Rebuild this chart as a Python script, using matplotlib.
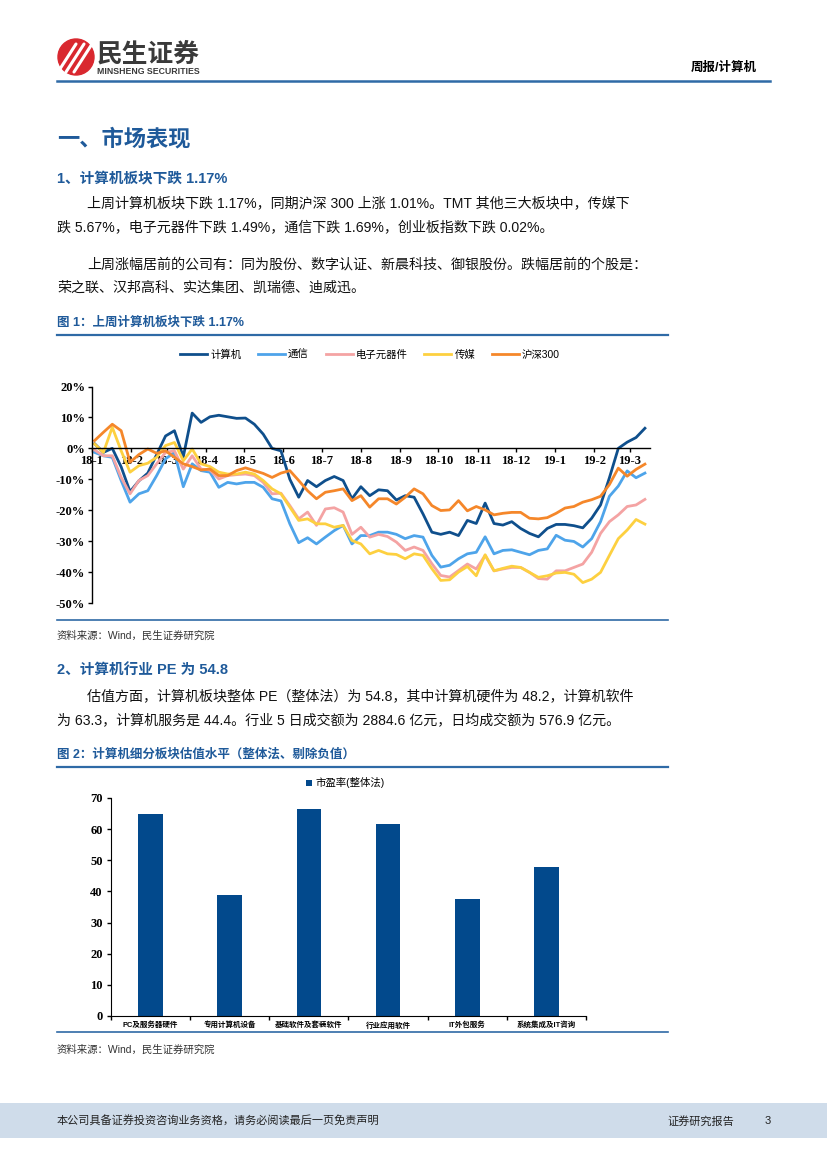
import pandas as pd
import matplotlib
matplotlib.use("Agg")
from matplotlib import pyplot as plt
from matplotlib.patches import Rectangle, Circle

plt.rcParams["font.family"] = ["Liberation Sans", "Noto Sans CJK SC", "DejaVu Sans"]

# ---------------- data ----------------
# weekly cumulative change (%) since 2018-01
weeks = pd.date_range("2018-01-03", periods=63, freq="7D")
month_ticks = pd.date_range("2018-01-01", "2019-03-01", freq="MS")
month_labels = ["18-1", "18-2", "18-3", "18-4", "18-5", "18-6", "18-7", "18-8",
                "18-9", "18-10", "18-11", "18-12", "19-1", "19-2", "19-3"]

computer = [1.5, -1.3, 0.0, -6, -14, -10.5, -8, -2, 4, 5.7, -2.7, 11.4, 8.4, 10.2, 10.7,
            10.2, 9.7, 9.8, 7.8, 4.6, 0, -0.8,
            -10, -15.8, -10.4, -12.4, -10.4, -9.1, -10.4, -16.3, -12.4, -15.3, -13.4, -13.7,
            -16.7, -15.3, -15.8, -21.2, -27.1, -27.8, -27.1, -28.2,
            -23.3, -24.3, -17.7, -24.3, -24.8, -23.7, -25.9, -27.5, -28.6, -25.9, -24.6,
            -24.6, -25, -25.7, -22.6, -18.3, -9.5, 0, 2, 3.5, 6.5]
telecom = [-1.3, -2.4, -2.9, -10.4, -17.4, -14.7, -13.7, -8.8, -3.4, -1.3, -12.4, -5, -7.2,
           -7.7, -12.6, -11, -11.5, -11, -11, -12.6, -16.3, -17,
           -24.4, -30.5, -28.9, -30.9, -28.7, -26.6, -24.9, -30.9, -28.2, -28.2, -27.1, -27.1,
           -27.8, -29.2, -28.2, -28.7, -34.6, -38.4, -37.8, -35.7,
           -34.1, -33.6, -28.6, -34.1, -33, -32.8, -33.6, -34.4, -33, -32.5, -28.1, -29.7,
           -30.1, -31.9, -29.2, -23.7, -15.5, -12.2, -7.3, -9.5, -8]
electronics = [-0.5, -2.4, -2.4, -9.4, -14.7, -10.4, -8.8, -5, -1.3, -0.8, -6.7, -2.4, -6.7,
               -7, -9.9, -8.8, -8.5, -8.3, -8.8, -11, -14.7, -14.5,
               -18.5, -22.8, -20.6, -24.9, -19.6, -19.2, -20.6, -27.8, -25.5, -28.7, -27.8,
               -28.5, -30.3, -33, -31.9, -33, -37.3, -41.1, -41.6, -39.5,
               -37.4, -39, -34.6, -39.6, -39, -38.5, -38.5, -40.1, -42.1, -42.3, -39.6, -39.6,
               -38.5, -37.4, -33.6, -27.5, -23.7, -21.5, -18.8, -18.3, -16.5]
media = [1.4, -1.3, 6.8, -0.8, -7.7, -5.6, -4.8, -2.9, 0.9, 1.9, -4, -0.2, -5, -5.9, -7.7,
         -8.3, -8.3, -7.7, -8.3, -10.4, -13.1, -14.7,
         -19, -23.3, -22.8, -24.4, -24.4, -25.5, -24.9, -29.8, -30.9, -34.1, -33, -34.1,
         -34.3, -35.7, -34.1, -34.6, -38.9, -42.7, -42.5, -40,
         -38.2, -41.2, -34.4, -39.6, -38.8, -38.1, -38.5, -40.1, -41.7, -41.2, -40.3, -40.1,
         -40.7, -43.4, -42.3, -40.1, -34.6, -29.2, -26.4, -23, -24.5]
hs300 = [2.5, 5.2, 7.8, 5.7, -4.5, -2, -0.2, -1.6, -0.8, -2.9, -5, -5.9, -7, -6.7, -8.8,
         -8.8, -7.2, -6.3, -7.2, -8.1, -9.4, -8,
         -7.2, -10.4, -13.7, -16.3, -14.2, -13.7, -13.1, -16.9, -15.3, -19, -16.3, -16.3,
         -18, -15.8, -13.1, -14.7, -18.5, -20.1, -19.9, -16.9,
         -20.2, -18.8, -19.9, -21.5, -21, -20.7, -20.7, -22.6, -22.8, -22.4, -21, -19.3,
         -18.8, -17.4, -16.6, -15.5, -11.7, -6.4, -9, -6.8, -5.1]

series_names = ["计算机", "通信", "电子元器件", "传媒", "沪深300"]
series_colors = ["#0f4f8c", "#4ea4ea", "#f4a3a3", "#fdd040", "#f5872a"]

# PE by sub-sector
sectors = ["PC及服务器硬件", "专用计算机设备", "基础软件及套装软件", "行业应用软件",
           "IT外包服务", "系统集成及IT咨询"]
pe = [65.0, 39.0, 66.5, 61.5, 37.5, 47.8]

# ---------------- page ----------------
W, H = 827, 1169
fig = plt.figure(figsize=(W / 100, H / 100), dpi=100)
ov = fig.add_axes([0, 0, 1, 1])
ov.set_xlim(0, W)
ov.set_ylim(H, 0)
ov.axis("off")

blue_txt = "#1f5a9a"
line_blue = "#2f6aa6"

# logo
ov.add_patch(Circle((76, 57), 18, color="#d9282f"))
for dx in (-8, 0, 8):
    ov.plot([66 + dx, 84 + dx], [72, 44], color="white", lw=2.2, solid_capstyle="round")
ov.text(97, 54, "民生证券", fontsize=18.5, fontweight="bold", color="#3a3a3a", va="center")
ov.text(97, 71, "MINSHENG SECURITIES", fontsize=6.3, fontweight="bold", color="#3a3a3a",
        va="center")
ov.text(757, 68, "周报/计算机", fontsize=9, fontweight="bold", ha="right", va="center")
ov.plot([57, 770], [81, 81], color=line_blue, lw=1.8)

# section text
ov.text(57, 140, "一、市场表现", fontsize=16, fontweight="bold", color=blue_txt, va="center")
ov.text(57, 178, "1、计算机板块下跌 1.17%", fontsize=10.5, fontweight="bold", color=blue_txt,
        va="center")
body = dict(fontsize=10.1, va="center", color="#111111")
ov.text(87, 203, "上周计算机板块下跌 1.17%，同期沪深 300 上涨 1.01%。TMT 其他三大板块中，传媒下", **body)
ov.text(57, 228, "跌 5.67%，电子元器件下跌 1.49%，通信下跌 1.69%，创业板指数下跌 0.02%。", **body)
ov.text(87, 265, "上周涨幅居前的公司有：同为股份、数字认证、新晨科技、御银股份。跌幅居前的个股是：", **body)
ov.text(57, 288, "荣之联、汉邦高科、实达集团、凯瑞德、迪威迅。", **body)

ov.text(57, 323, "图 1：上周计算机板块下跌 1.17%", fontsize=9, fontweight="bold", color=blue_txt,
        va="center")
ov.plot([57, 668], [335, 335], color=line_blue, lw=1.6)
ov.plot([57, 668], [620, 620], color=line_blue, lw=1.2)
ov.text(57, 636, "资料来源：Wind，民生证券研究院", fontsize=7.5, va="center", color="#333333")

ov.text(57, 670, "2、计算机行业 PE 为 54.8", fontsize=10.5, fontweight="bold", color=blue_txt,
        va="center")
ov.text(87, 696, "估值方面，计算机板块整体 PE（整体法）为 54.8，其中计算机硬件为 48.2，计算机软件", **body)
ov.text(57, 720, "为 63.3，计算机服务是 44.4。行业 5 日成交额为 2884.6 亿元，日均成交额为 576.9 亿元。", **body)

ov.text(57, 755, "图 2：计算机细分板块估值水平（整体法、剔除负值）", fontsize=9, fontweight="bold",
        color=blue_txt, va="center")
ov.plot([57, 668], [767, 767], color=line_blue, lw=1.6)
ov.plot([57, 668], [1032, 1032], color=line_blue, lw=1.2)
ov.text(57, 1050, "资料来源：Wind，民生证券研究院", fontsize=7.5, va="center", color="#333333")

# footer
ov.add_patch(Rectangle((0, 1103), W, 35, color="#cfdcea", lw=0))
ov.text(57, 1121, "本公司具备证券投资咨询业务资格，请务必阅读最后一页免责声明", fontsize=8,
        va="center", color="#222222")
ov.text(667, 1121, "证券研究报告", fontsize=8, va="center", color="#222222")
ov.text(768, 1121, "3", fontsize=8, va="center", ha="center", color="#222222")

# ---------------- chart 1 ----------------
serif = dict(family="Liberation Serif", weight="bold", size=9)
ax = fig.add_axes([92 / W, 1 - 603 / H, 558 / W, 216.5 / H])
ax.set_facecolor("none")
ax.spines["top"].set_visible(False)
ax.spines["right"].set_visible(False)
ax.spines["bottom"].set_position(("data", 0))
for vals, name, col in zip([computer, telecom, electronics, media, hs300],
                           series_names, series_colors):
    ax.plot(weeks, vals, color=col, lw=2.0, label=name, solid_joinstyle="round")
ax.set_ylim(-50, 20)
ax.set_xlim(pd.Timestamp("2018-01-02"), pd.Timestamp("2019-03-17"))
ax.set_yticks(range(-50, 21, 10))
ax.set_yticklabels([f"{v}%" for v in range(-50, 21, 10)], fontdict=serif)
ax.set_xticks(month_ticks)
ax.set_xticklabels(month_labels, fontdict=serif)
ax.tick_params(axis="x", length=3, width=1, pad=2, direction="out")
ax.tick_params(axis="y", length=3, width=1, pad=2)
for s in ("left", "bottom"):
    ax.spines[s].set_linewidth(1.0)

fig.legend(*ax.get_legend_handles_labels(), loc="center", ncol=5, frameon=False,
           bbox_to_anchor=(370 / W, 1 - 355 / H), fontsize=7.5, handlelength=2.6,
           columnspacing=1.6, handletextpad=0.3)

# ---------------- chart 2 ----------------
ax2 = fig.add_axes([111 / W, 1 - 1016 / H, 475 / W, 218 / H])
ax2.set_facecolor("none")
ax2.bar(range(len(sectors)), pe, width=0.31, color="#02498c", label="市盈率(整体法)")
ax2.set_xlim(-0.5, len(sectors) - 0.5)
ax2.set_ylim(0, 70)
ax2.set_yticks(range(0, 71, 10))
ax2.set_yticklabels([str(v) for v in range(0, 71, 10)], fontdict=serif)
ax2.set_xticks(range(len(sectors)))
ax2.set_xticklabels(sectors, fontsize=5.4, fontweight="bold")
ax2.set_xticks([i - 0.5 for i in range(len(sectors) + 1)], minor=True)
ax2.tick_params(axis="x", which="major", length=0, pad=4)
ax2.tick_params(axis="x", which="minor", length=3, width=1)
ax2.tick_params(axis="y", length=3, width=1, pad=3)
ax2.spines["top"].set_visible(False)
ax2.spines["right"].set_visible(False)
fig.legend(*ax2.get_legend_handles_labels(), loc="center", frameon=False,
           bbox_to_anchor=(345 / W, 1 - 783 / H), fontsize=7.5, handlelength=0.6,
           handleheight=0.6, handletextpad=0.3)

fig.savefig("out.png", dpi=100)
